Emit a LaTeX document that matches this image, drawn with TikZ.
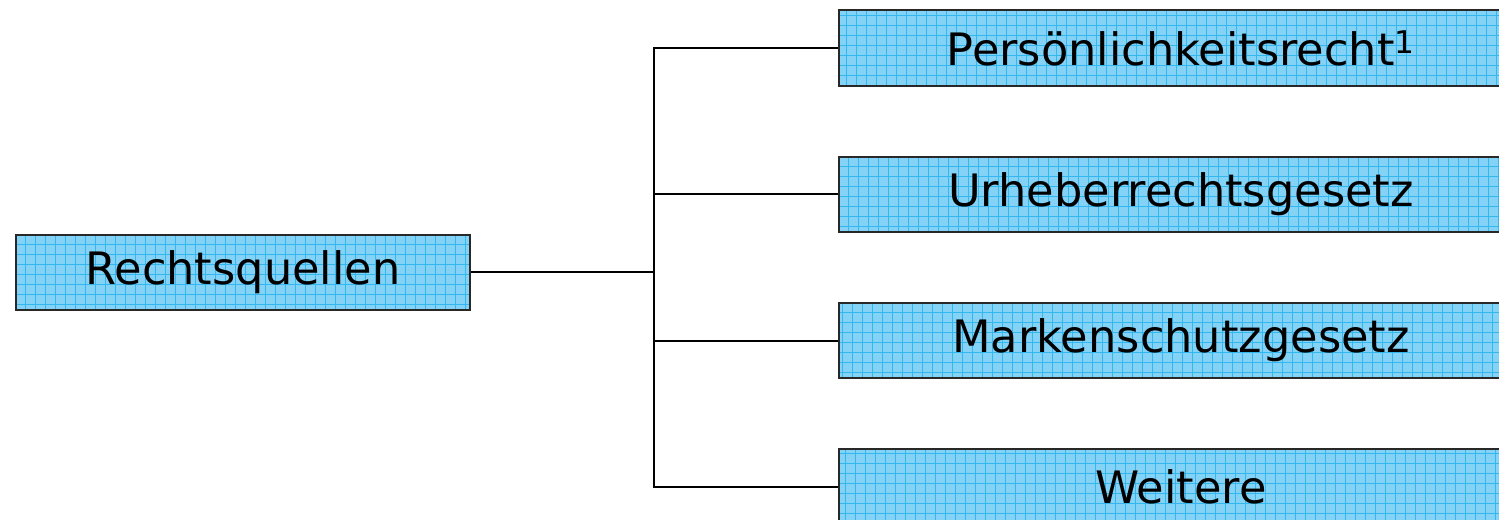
\documentclass[tikz,border=0pt]{standalone}
\usepackage{fontspec}
\setmainfont{DejaVu Sans}
\definecolor{boxfill}{RGB}{132,210,246}
\definecolor{boxgrid}{RGB}{50,184,238}
\definecolor{boxedge}{RGB}{40,40,40}
\tikzset{
  source/.style={draw=boxedge, line width=1.5pt, fill=boxfill,
    minimum height=56.5pt, inner sep=0pt, font=\fontsize{33.5}{38}\selectfont,
    path picture={\draw[boxgrid, line width=0.6pt]
      (path picture bounding box.south west) grid[step=7.5pt]
      (path picture bounding box.north east);}},
  link/.style={line width=1.5pt, black}
}
\begin{document}
\begin{tikzpicture}[x=0.75pt, y=-0.75pt]
  \useasboundingbox (0,0) rectangle (1499,520);
  \clip (0,0) rectangle (1499,520);
  % root box and its four branches
  \node[source, minimum width=340.5pt, anchor=west] (root) at (15,272.5) {Rechtsquellen};
  \node[source, minimum width=513pt, anchor=west] (b1) at (838,48) {Persönlichkeitsrecht\textsuperscript{1}};
  \node[source, minimum width=513pt, anchor=west] (b2) at (838,194.5) {Urheberrechtsgesetz};
  \node[source, minimum width=513pt, anchor=west] (b3) at (838,340.5) {Markenschutzgesetz};
  \node[source, minimum width=513pt, anchor=west] (b4) at (838,487) {Weitere};
  % tree connectors
  \coordinate (fork) at (654,272.5);
  \draw[link] (root.east) -- (fork);
  \draw[link] (fork) |- (b1.west);
  \draw[link] (fork) |- (b2.west);
  \draw[link] (fork) |- (b3.west);
  \draw[link] (fork) |- (b4.west);
\end{tikzpicture}
\end{document}
